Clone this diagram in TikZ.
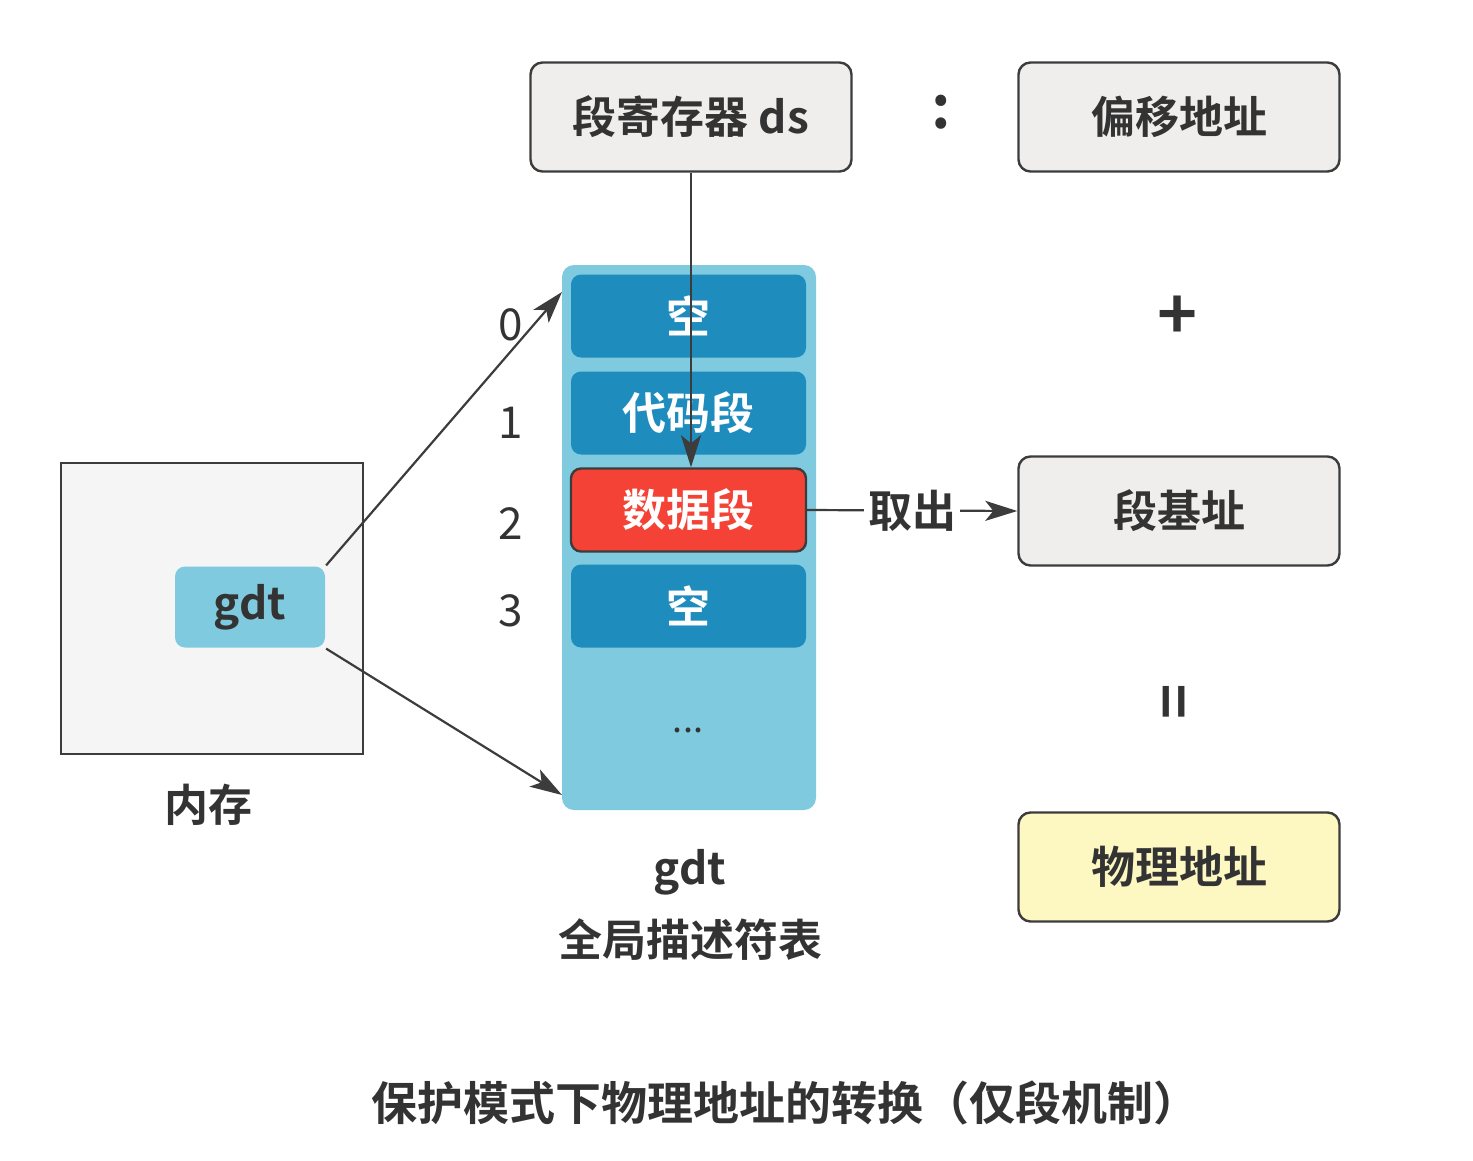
\documentclass[tikz,border=0pt]{standalone}
\usepackage{fontspec}
\setmainfont{Noto Sans CJK SC}[BoldFont={Noto Sans CJK SC Bold}]
\usetikzlibrary{arrows.meta,positioning}

\definecolor{boxgray}{HTML}{EFEEEC}
\definecolor{linegray}{HTML}{3C3C3C}
\definecolor{txtgray}{HTML}{333333}
\definecolor{tblblue}{HTML}{7FCADF}
\definecolor{entblue}{HTML}{1E8CBD}
\definecolor{datared}{HTML}{F44336}
\definecolor{physyel}{HTML}{FDF8C2}

\begin{document}
\begin{tikzpicture}[x=0.5pt,y=-0.5pt,line width=1.1pt,
                    draw=linegray,text=txtgray,node distance=244pt,
                    arr/.style={draw=linegray,line width=1.1pt,-{Stealth[length=16pt,width=10pt,inset=4pt]}},
                    reg box/.style={rectangle,rounded corners=6pt,draw=linegray,line width=1.2pt,fill=boxgray,
                                    minimum width=160.5pt,minimum height=54.5pt,font=\bfseries\fontsize{22}{24}\selectfont},
                    entry/.style={rectangle,rounded corners=5pt,fill=entblue,text=white,
                                  minimum width=117.5pt,minimum height=41.5pt,font=\bfseries\fontsize{22}{24}\selectfont},
                    idx/.style={font=\fontsize{22}{24}\selectfont},
                    lbl/.style={font=\bfseries\fontsize{22}{24}\selectfont}]

  \useasboundingbox (0,0) rectangle (1473,1161);

  % memory and gdt pointer
  \node[draw=linegray,line width=1.2pt,fill=black!4,minimum width=151pt,minimum height=145.5pt] (mem) at (212,608.5) {};
  \node[lbl] (memlbl) at (208,805) {内存};
  \node[rectangle,rounded corners=5pt,fill=tblblue,minimum width=75pt,minimum height=40.5pt,
        font=\bfseries\fontsize{22}{24}\selectfont] (gdt) at (250,607) {gdt};

  % descriptor table
  \node[rectangle,rounded corners=6pt,fill=tblblue,minimum width=127pt,minimum height=272.5pt] (tbl) at (689,537.5) {};
  \node[entry] (e0) at (688.5,316) {空};
  \node[entry] (e1) at (688.5,413) {代码段};
  \node[entry,fill=datared,draw=linegray,line width=1.2pt] (data) at (688.5,510) {数据段};
  \node[entry] (e3) at (688.5,606) {空};
  \node[font=\fontsize{18}{20}\selectfont] (dots) at (688,730) {...};

  \node[idx] (i0) at (511,325) {0};
  \node[idx] (i1) at (511,423) {1};
  \node[idx] (i2) at (511,524) {2};
  \node[idx] (i3) at (511,611) {3};

  \node[lbl] (tname) at (690,872) {gdt};
  \node[lbl] (tdesc) at (690,940) {全局描述符表};

  % address boxes
  \node[reg box] (ds) at (691,117) {段寄存器 ds};
  \node[reg box] (off) [right of=ds] {偏移地址};
  \node[font=\bfseries\fontsize{30}{32}\selectfont] (colon) at (941,112) {:};
  \node[font=\bfseries\fontsize{34}{36}\selectfont] (plus) at (1178,318) {+};
  \node[reg box] (base) at (1179,511) {段基址};
  \node[font=\bfseries\fontsize{30}{32}\selectfont,rotate=90] (eq) at (1180,702) {=};
  \node[reg box,fill=physyel] (phys) at (1179,867) {物理地址};

  \node[font=\bfseries\fontsize{23}{25}\selectfont] (title) at (785,1103) {保护模式下物理地址的转换（仅段机制）};

  \coordinate (t0) at (562,292);
  \coordinate (tend) at (562,795);

  \draw[arr] (gdt.north east) -- (t0);
  \draw[arr] (gdt.south east) -- (tend);
  \draw[arr] (ds.south) -- (ds.south |- data.north);
  \draw[arr] (data.east) -- node[fill=white,inner xsep=2pt,lbl] {取出} (base.west);
\end{tikzpicture}
\end{document}
